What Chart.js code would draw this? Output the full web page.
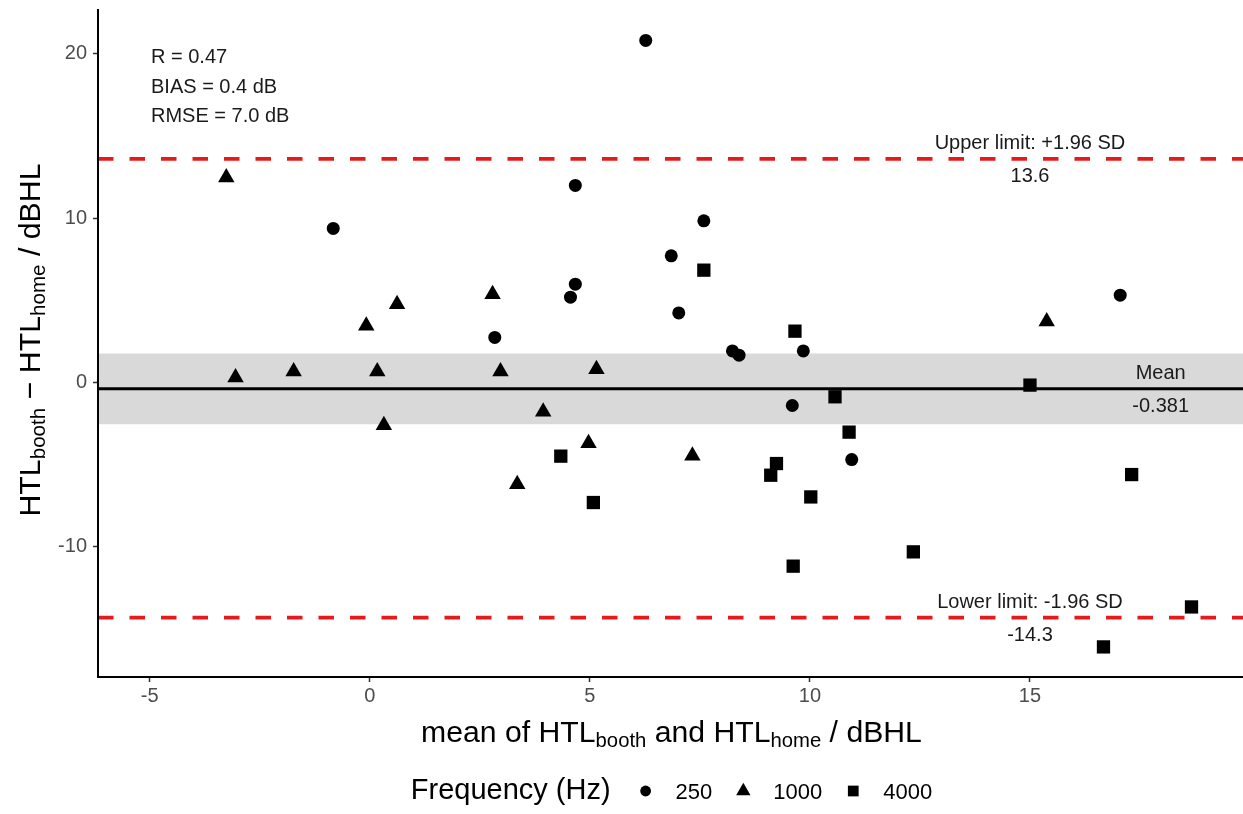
<!DOCTYPE html>
<html>
<head>
<meta charset="utf-8">
<script src="https://cdn.jsdelivr.net/npm/chart.js@4.4.1/dist/chart.umd.min.js"></script>
<style>
  html, body { margin: 0; padding: 0; background: #ffffff; }
  canvas { display: block; }
</style>
</head>
<body>
<canvas id="c" width="1243" height="814"></canvas>
<script>
// ---------------- data ----------------
const freq250X = [6.27, -0.83, 2.84, 4.67, 7.59, 6.85, 4.67, 4.56, 7.02, 8.24, 8.39, 9.85, 9.60, 10.95, 17.05];
const freq250Y = [20.8, 9.37, 2.74, 11.98, 9.83, 7.70, 5.98, 5.19, 4.23, 1.92, 1.66, 1.92, -1.40, -4.69, 5.31];

const freq1000X = [-3.26, -3.05, -1.73, 0.17, 0.32, 2.97, 3.35, 3.94, 5.15, 4.97, 7.33, -0.08, 0.62, 2.79, 15.38];
const freq1000Y = [12.47, 0.30, 0.67, 0.67, -2.60, 0.67, -6.19, -1.78, 0.81, -3.69, -4.46, 3.45, 4.76, 5.37, 3.71];

const freq4000X = [7.59, 9.66, 10.57, 15.00, 10.89, 4.34, 9.24, 9.11, 10.02, 5.08, 9.62, 12.35, 17.31, 18.67, 16.67];
const freq4000Y = [6.83, 3.12, -0.87, -0.16, -3.02, -4.48, -4.93, -5.64, -6.96, -7.30, -11.17, -10.30, -5.60, -13.65, -16.08];

const seriesLabels = ['250', '1000', '4000'];
const xTicks = [-5, 0, 5, 10, 15];
const yTicks = [-10, 0, 10, 20];

const meanDiff = -0.381;
const upperLimit = 13.6;
const lowerLimit = -14.3;
const meanCI = [-2.54, 1.76];

const statsLines = ['R = 0.47', 'BIAS = 0.4 dB', 'RMSE = 7.0 dB'];
const upperLabel = 'Upper limit: +1.96 SD';
const lowerLabel = 'Lower limit: -1.96 SD';
const meanLabel = 'Mean';
const legendTitle = 'Frequency (Hz)';
const xTitleParts = [['mean of HTL', 0], ['booth', 1], [' and HTL', 0], ['home', 1], [' / dBHL', 0]];
const yTitleParts = [['HTL', 0], ['booth', 1], [' \u2212 HTL', 0], ['home', 1], [' / dBHL', 0]];

// ---------------- helpers ----------------
const FONT = '"Liberation Sans", Arial, Helvetica, sans-serif';
const pts = (xs, ys) => xs.map((v, i) => ({ x: v, y: ys[i] }));

const styles = [
  { pointStyle: 'circle', radius: 6.5, legendRadius: 5.4 },
  { pointStyle: 'triangle', radius: 9.5, legendRadius: 8.3 },
  { pointStyle: 'rect', radius: 9.4, legendRadius: 7.6 }
];

function drawRich(ctx, parts, cx, baseY, mainSize, subSize, subDrop) {
  let w = 0;
  const widths = parts.map(p => {
    ctx.font = (p[1] ? subSize : mainSize) + 'px ' + FONT;
    const m = ctx.measureText(p[0]).width;
    w += m;
    return m;
  });
  let x = cx - w / 2;
  ctx.textAlign = 'left';
  ctx.textBaseline = 'alphabetic';
  parts.forEach((p, i) => {
    ctx.font = (p[1] ? subSize : mainSize) + 'px ' + FONT;
    ctx.fillText(p[0], x, baseY + (p[1] ? subDrop : 0));
    x += widths[i];
  });
}

const noPad = s => { s.paddingLeft = 0; s.paddingRight = 0; s.paddingTop = 0; s.paddingBottom = 0; };

const refPlugin = {
  id: 'refLines',
  beforeDatasetsDraw(chart) {
    const { ctx, chartArea: a, scales: { x, y } } = chart;
    ctx.save();
    ctx.beginPath();
    ctx.rect(a.left + 1, a.top, a.right - a.left - 1, a.bottom - a.top - 1);
    ctx.clip();
    const yHi = y.getPixelForValue(meanCI[1]);
    const yLo = y.getPixelForValue(meanCI[0]);
    ctx.fillStyle = '#d9d9d9';
    ctx.fillRect(a.left, yHi, a.right - a.left, yLo - yHi);

    const ym = y.getPixelForValue(meanDiff);
    ctx.strokeStyle = '#000000';
    ctx.lineWidth = 3;
    ctx.beginPath(); ctx.moveTo(a.left, ym); ctx.lineTo(a.right, ym); ctx.stroke();

    ctx.strokeStyle = '#e41a1c';
    ctx.lineWidth = 3.6;
    ctx.setLineDash([15.5, 16]);
    [upperLimit, lowerLimit].forEach(v => {
      const yy = y.getPixelForValue(v);
      ctx.beginPath(); ctx.moveTo(a.left, yy); ctx.lineTo(a.right, yy); ctx.stroke();
    });
    ctx.restore();
  },
  afterDatasetsDraw(chart) {
    const { ctx, chartArea: a, scales: { x, y } } = chart;
    ctx.save();
    ctx.fillStyle = '#1a1a1a';
    ctx.font = '20px ' + FONT;
    ctx.textBaseline = 'middle';

    // stats block
    ctx.textAlign = 'left';
    statsLines.forEach((s, i) => ctx.fillText(s, a.left + 53, a.top + 47.5 + i * 29.7));

    // limit labels
    ctx.textAlign = 'center';
    const xl = x.getPixelForValue(15);
    const yu = y.getPixelForValue(upperLimit);
    ctx.fillText(upperLabel, xl, yu - 15.5);
    ctx.fillText(String(upperLimit), xl, yu + 17.5);
    const yl = y.getPixelForValue(lowerLimit);
    ctx.fillText(lowerLabel, xl, yl - 15.3);
    ctx.fillText(String(lowerLimit), xl, yl + 17.5);
    const xm = x.getPixelForValue(17.97);
    const ym = y.getPixelForValue(meanDiff);
    ctx.fillText(meanLabel, xm, ym - 15.3);
    ctx.fillText(String(meanDiff), xm, ym + 17.7);
    ctx.restore();
  },
  afterDraw(chart) {
    const { ctx, chartArea: a } = chart;
    ctx.save();
    ctx.fillStyle = '#000000';
    // x title
    drawRich(ctx, xTitleParts, (a.left + a.right) / 2 + 1, 742, 30.2, 20.3, 4.5);
    // y title
    ctx.save();
    ctx.translate(40, (a.top + a.bottom) / 2 - 3.5);
    ctx.rotate(-Math.PI / 2);
    drawRich(ctx, yTitleParts, 0, 0, 30.3, 20.6, 4.5);
    ctx.restore();

    // legend
    const baseY = 799;
    const symY = 791;
    const titleSize = 29, labelSize = 22;
    const titleToSym = 35, symToLabel = 30, labelToSym = 31;
    ctx.font = titleSize + 'px ' + FONT;
    const tw = ctx.measureText(legendTitle).width;
    ctx.font = labelSize + 'px ' + FONT;
    const lw = seriesLabels.map(l => ctx.measureText(l).width);
    let total = tw + titleToSym;
    lw.forEach((w, i) => { total += symToLabel + w + (i < lw.length - 1 ? labelToSym : 0); });
    let cx = (a.left + a.right) / 2 + 1 - total / 2;
    ctx.textAlign = 'left';
    ctx.textBaseline = 'alphabetic';
    ctx.font = titleSize + 'px ' + FONT;
    ctx.fillText(legendTitle, cx, baseY);
    cx += tw + titleToSym;
    seriesLabels.forEach((l, i) => {
      ctx.fillStyle = '#000000';
      Chart.helpers.drawPoint(ctx, { pointStyle: styles[i].pointStyle, radius: styles[i].legendRadius, rotation: 0, borderWidth: 0 }, cx, symY);
      ctx.font = labelSize + 'px ' + FONT;
      ctx.fillText(l, cx + symToLabel, baseY);
      cx += symToLabel + lw[i] + labelToSym;
    });
    ctx.restore();
  }
};

const mkSet = (label, xs, ys, st) => ({
  label,
  data: pts(xs, ys),
  pointStyle: st.pointStyle,
  pointRadius: st.radius,
  pointHoverRadius: st.radius,
  pointBackgroundColor: '#000000',
  pointBorderWidth: 0,
  pointBorderColor: '#000000'
});

new Chart(document.getElementById('c'), {
  type: 'scatter',
  data: {
    datasets: [
      mkSet(seriesLabels[0], freq250X, freq250Y, styles[0]),
      mkSet(seriesLabels[1], freq1000X, freq1000Y, styles[1]),
      mkSet(seriesLabels[2], freq4000X, freq4000Y, styles[2])
    ]
  },
  options: {
    responsive: false,
    devicePixelRatio: 1,
    animation: false,
    layout: { autoPadding: false, padding: { top: 10, left: 0, right: 0, bottom: 0 } },
    plugins: { legend: { display: false }, tooltip: { enabled: false } },
    scales: {
      x: {
        type: 'linear',
        min: -6.175,
        max: 19.84,
        afterBuildTicks: s => { s.ticks = xTicks.map(v => ({ value: v })); },
        afterFit: s => { s.height = 137; noPad(s); },
        ticks: { font: { family: FONT, size: 20 }, color: '#4d4d4d', padding: 2, callback: v => String(v), autoSkip: false, maxRotation: 0 },
        grid: { display: true, drawOnChartArea: false, drawTicks: true, tickLength: 5, tickColor: '#333333', tickWidth: 1.5 },
        border: { display: true, color: '#000000', width: 2 }
      },
      y: {
        type: 'linear',
        min: -17.91,
        max: 22.65,
        afterBuildTicks: s => { s.ticks = yTicks.map(v => ({ value: v })); },
        afterFit: s => { s.width = 98; noPad(s); },
        ticks: { font: { family: FONT, size: 20 }, color: '#4d4d4d', padding: 6, callback: v => String(v), autoSkip: false },
        grid: { display: true, drawOnChartArea: false, drawTicks: true, tickLength: 5, tickColor: '#333333', tickWidth: 1.5 },
        border: { display: true, color: '#000000', width: 2 }
      }
    }
  },
  plugins: [refPlugin]
});
</script>
</body>
</html>
